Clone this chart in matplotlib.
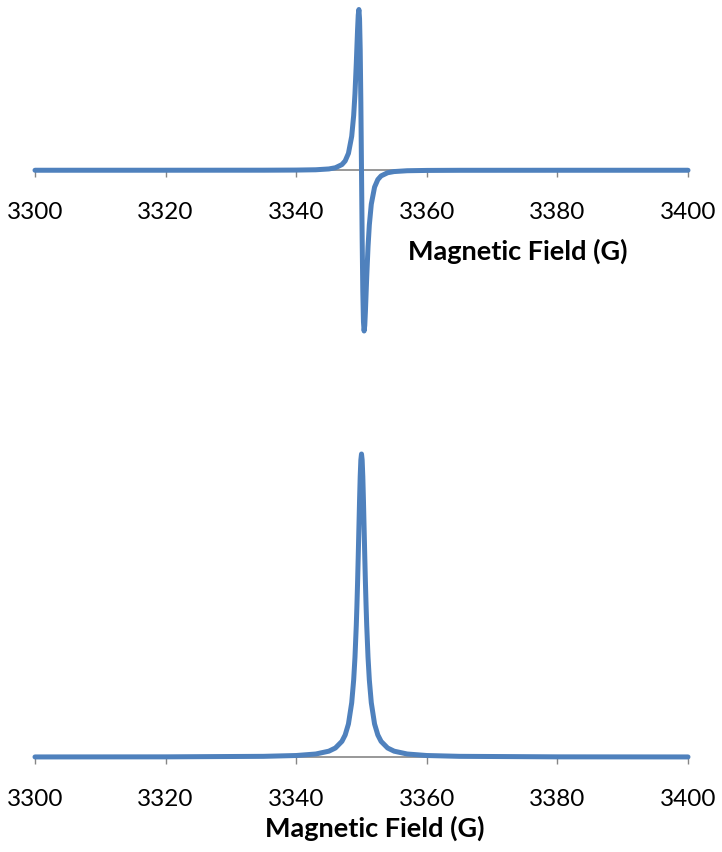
"""
Espectro EPR simulado: derivada (arriba) y absorción (abajo) de una
línea centrada en 3350 G. Estilo de gráfico de Excel.
"""

import matplotlib
matplotlib.use("Agg")
import matplotlib.pyplot as plt  # noqa: E402

# Campo magnético (G)
CAMPO = [3300, 3320, 3335, 3340, 3343, 3345, 3346, 3347, 3347.5, 3348,
         3348.5, 3348.8, 3349, 3349.2, 3349.3, 3349.4, 3349.5, 3349.6,
         3349.7, 3349.8, 3349.9, 3350, 3350.1, 3350.2, 3350.3, 3350.4,
         3350.5, 3350.6, 3350.7, 3350.8, 3351, 3351.2, 3351.5, 3352,
         3352.5, 3353, 3354, 3355, 3357, 3360, 3365, 3380, 3400]

# Señal derivada (normalizada al máximo)
DERIVADA = [0.0, 0.0001, 0.0003, 0.0011, 0.0030, 0.0081, 0.0155, 0.0352,
            0.058, 0.105, 0.211, 0.340, 0.476, 0.662, 0.770, 0.877, 0.965,
            1.000, 0.942, 0.752, 0.423, 0.0, -0.423, -0.752, -0.942, -1.000,
            -0.965, -0.877, -0.770, -0.662, -0.476, -0.340, -0.211, -0.105,
            -0.058, -0.0352, -0.0155, -0.0081, -0.0030, -0.0011, -0.0003,
            -0.0001, 0.0]

# Señal de absorción (normalizada al máximo)
ABSORCION = [0.0002, 0.0005, 0.0022, 0.0049, 0.0099, 0.0192, 0.0297,
             0.0516, 0.0727, 0.109, 0.179, 0.254, 0.329, 0.434, 0.500,
             0.576, 0.662, 0.754, 0.845, 0.925, 0.980, 1.000, 0.980, 0.925,
             0.845, 0.754, 0.662, 0.576, 0.500, 0.434, 0.329, 0.254, 0.179,
             0.109, 0.0727, 0.0516, 0.0297, 0.0192, 0.0099, 0.0049, 0.0022,
             0.0005, 0.0002]

TICKS_X = [3300, 3320, 3340, 3360, 3380, 3400]
ETIQUETA_X = "Magnetic Field (G)"

AZUL = "#4F81BD"
GRIS = "#868686"
FUENTE = ["Lato", "DejaVu Sans"]

W, H = 722, 853


def px_a_fig(x0, y_sup, x1, y_inf):
    """Convierte una caja en píxeles (origen arriba-izquierda) a coords de figura."""
    return [x0 / W, 1 - y_inf / H, (x1 - x0) / W, (y_inf - y_sup) / H]


def estilo_excel(ax, y_eje):
    for lado in ["top", "right", "left"]:
        ax.spines[lado].set_visible(False)
    ax.spines["bottom"].set_position(("data", y_eje))
    ax.spines["bottom"].set_color(GRIS)
    ax.spines["bottom"].set_linewidth(1.2)
    ax.set_yticks([])
    ax.set_xlim(3300, 3400)
    ax.set_xticks(TICKS_X)
    ax.set_xticklabels([str(t) for t in TICKS_X], family=FUENTE, fontsize=17.5)
    ax.tick_params(axis="x", direction="out", length=5, width=1, color=GRIS,
                   pad=17)
    ax.patch.set_visible(False)


plt.rcParams["font.family"] = FUENTE
fig = plt.figure(figsize=(W / 100, H / 100), dpi=100)

# Panel superior: derivada
ax_der = fig.add_axes(px_a_fig(35, 10.5, 688, 332))
ax_der.plot(CAMPO, DERIVADA, color=AZUL, linewidth=3.6, clip_on=False,
            zorder=3, solid_joinstyle="round", solid_capstyle="round")
ax_der.set_ylim(-1, 1)
estilo_excel(ax_der, 0)

# Panel inferior: absorción
ax_abs = fig.add_axes(px_a_fig(35, 455, 688, 758))
ax_abs.plot(CAMPO, ABSORCION, color=AZUL, linewidth=3.6, clip_on=False,
            zorder=3, solid_joinstyle="round", solid_capstyle="round")
ax_abs.set_ylim(0, 1)
estilo_excel(ax_abs, 0)

# Etiquetas del eje x (posición libre, como en el original)
fig.text(408 / W, 1 - 260 / H, ETIQUETA_X, ha="left", va="baseline",
         fontsize=19.5, fontweight="bold", family=FUENTE)
fig.text(265 / W, 1 - 836.5 / H, ETIQUETA_X, ha="left", va="baseline",
         fontsize=19.5, fontweight="bold", family=FUENTE)

fig.savefig("out.png", dpi=100)
